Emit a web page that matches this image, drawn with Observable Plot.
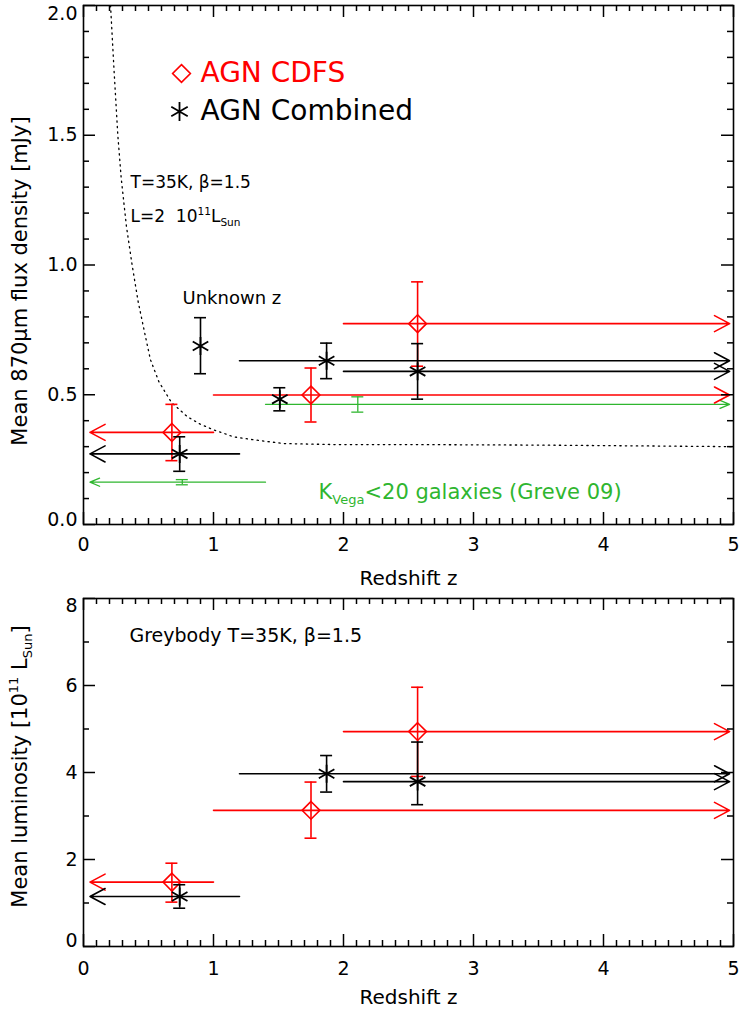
<!DOCTYPE html>
<html><head><meta charset="utf-8">
<script src="https://cdn.jsdelivr.net/npm/d3@7"></script>
<script src="https://cdn.jsdelivr.net/npm/@observablehq/plot@0.6"></script>
<style>body{margin:0;background:#fff;} svg{display:block}</style>
</head><body><div id="chart"></div>
<script>
// ---------------- data ----------------
const xTicks = [0, 1, 2, 3, 4, 5];
const fluxTicks = [0, 0.5, 1.0, 1.5, 2.0];
const lumTicks = [0, 2, 4, 6, 8];

// AGN CDFS (red diamonds)
const zCDFS = [0.68, 1.75, 2.57];
const fluxCDFS = [0.355, 0.499, 0.774];
const fluxCDFSLo = [0.246, 0.395, 0.61];
const fluxCDFSHi = [0.463, 0.603, 0.935];
const lumCDFS = [1.48, 3.13, 4.94];
const lumCDFSLo = [1.02, 2.49, 3.91];
const lumCDFSHi = [1.915, 3.78, 5.96];
const binStartCDFS = [1.0, 1.0, 2.0];
const binArrowCDFS = [0.05, 4.97, 4.97];

// AGN Combined (black asterisks)
const zComb = [0.74, 1.87, 2.57];
const fluxComb = [0.272, 0.631, 0.590];
const fluxCombLo = [0.205, 0.562, 0.483];
const fluxCombHi = [0.338, 0.699, 0.697];
const lumComb = [1.15, 3.97, 3.79];
const lumCombLo = [0.88, 3.55, 3.26];
const lumCombHi = [1.42, 4.39, 4.70];
const binStartComb = [1.2, 1.2, 2.0];
const binArrowComb = [0.05, 4.97, 4.97];

// AGN Combined points without a redshift-bin bar (z~1.5 and "Unknown z")
const zCombSingle = [1.51, 0.90];
const fluxCombSingle = [0.483, 0.688];
const fluxCombSingleLo = [0.438, 0.581];
const fluxCombSingleHi = [0.527, 0.797];

// K_Vega<20 galaxies (Greve 09)
const zGreve = [0.76, 2.11];
const fluxGreve = [0.163, 0.463];
const fluxGreveLo = [0.153, 0.433];
const fluxGreveHi = [0.173, 0.492];
const binStartGreve = [1.4, 1.4];
const binArrowGreve = [0.05, 4.97];

// Greybody track T=35K, beta=1.5, L=2e11 Lsun
const curveZ =    [0.208, 0.235, 0.264, 0.29, 0.33, 0.374, 0.42, 0.47, 0.515, 0.58, 0.677, 0.8, 0.9, 1.0, 1.154, 1.3, 1.54, 1.92, 2.5, 3.0, 3.5, 4.0, 4.5, 5.0];
const curveFlux = [2.0, 1.75, 1.5, 1.335, 1.15, 1.0, 0.86, 0.74, 0.635, 0.55, 0.47, 0.415, 0.386, 0.365, 0.338, 0.327, 0.312, 0.308, 0.308, 0.307, 0.306, 0.304, 0.302, 0.300];

const RED = "#ff0000", GREEN = "#2fb62f", BLACK = "#000000";
const FONT = "DejaVu Sans";
const W = 739, ML = 83, MR = 6;
const H1 = 590, MT1 = 5, MB1 = 66;
const H2 = 419, MT2 = 8, MB2 = 63;
const X_DOMAIN = [0, 5];

// ---------------- helpers ----------------
function rows(z, v, lo, hi, from, to) {
  return z.map((d, i) => ({z: d, v: v[i], lo: lo[i], hi: hi[i],
    from: from ? from[i] : null, to: to ? to[i] : null}));
}
function series(data, {color, symbol, r = 8, sw = 1.6, dotSW = 1.6, headLength = 16, headAngle = 56}) {
  const m = [];
  const barred = data.filter(d => d.from != null);
  m.push(Plot.arrow(barred, {x1: "from", y1: "v", x2: "to", y2: "v", stroke: color, strokeWidth: sw, headLength, headAngle}));
  m.push(Plot.ruleX(data, {x: "z", y1: "lo", y2: "hi", stroke: color, strokeWidth: sw}));
  m.push(Plot.ruleY(data, {y: "lo", x1: "z", x2: "z", insetLeft: -6, insetRight: -6, stroke: color, strokeWidth: sw}));
  m.push(Plot.ruleY(data, {y: "hi", x1: "z", x2: "z", insetLeft: -6, insetRight: -6, stroke: color, strokeWidth: sw}));
  if (symbol) m.push(Plot.dot(data, {x: "z", y: "v", symbol, r, stroke: color, strokeWidth: dotSW, fill: "none"}));
  return m;
}
// inward ticks on all four sides, drawn as rules; tick length given in px and
// converted to data units from the frame size
function ticksOn(vals, side, len, yDom, fw, fh) {
  const ky = (yDom[1] - yDom[0]) / fh, kx = (X_DOMAIN[1] - X_DOMAIN[0]) / fw;
  const o = {stroke: BLACK, strokeWidth: 1.5};
  if (side === "bottom") return Plot.ruleX(vals, {...o, x: d => d, y1: () => yDom[0], y2: () => yDom[0] + len * ky});
  if (side === "top") return Plot.ruleX(vals, {...o, x: d => d, y1: () => yDom[1] - len * ky, y2: () => yDom[1]});
  if (side === "left") return Plot.ruleY(vals, {...o, y: d => d, x1: () => X_DOMAIN[0], x2: () => X_DOMAIN[0] + len * kx});
  return Plot.ruleY(vals, {...o, y: d => d, x1: () => X_DOMAIN[1] - len * kx, x2: () => X_DOMAIN[1]});
}
function frameAxes({height, marginTop, marginBottom, yDom, yMajor, yMinor, fmt, endShiftTop, endShiftBottom, xPad}) {
  const fw = W - ML - MR, fh = height - marginTop - marginBottom;
  const xMinor = d3.range(1, 50).map(i => i / 10).filter(v => Math.abs(v - Math.round(v)) > 1e-6);
  const lab = {label: null, tickSize: 0, fontSize: 19};
  return [
    ticksOn(xTicks, "bottom", 12, yDom, fw, fh), ticksOn(xMinor, "bottom", 6, yDom, fw, fh),
    ticksOn(xTicks, "top", 12, yDom, fw, fh), ticksOn(xMinor, "top", 6, yDom, fw, fh),
    ticksOn(yMajor, "left", 12, yDom, fw, fh), ticksOn(yMinor, "left", 6, yDom, fw, fh),
    ticksOn(yMajor, "right", 12, yDom, fw, fh), ticksOn(yMinor, "right", 6, yDom, fw, fh),
    Plot.axisX(xTicks, {...lab, anchor: "bottom", tickPadding: xPad, tickFormat: d => String(d)}),
    Plot.axisY(yMajor.slice(1, -1), {...lab, anchor: "left", tickPadding: 6, tickFormat: fmt}),
    Plot.axisY(yMajor.slice(-1), {...lab, anchor: "left", tickPadding: 6, tickFormat: fmt, dy: endShiftTop}),
    Plot.axisY(yMajor.slice(0, 1), {...lab, anchor: "left", tickPadding: 6, tickFormat: fmt, dy: endShiftBottom}),
    Plot.frame({stroke: BLACK, strokeWidth: 1.6})
  ];
}
// turn ^{..} and _{..} into superscript / subscript tspans
function applyRich(svg) {
  const NS = "http://www.w3.org/2000/svg";
  svg.querySelectorAll("text").forEach(el => {
    const s = el.textContent;
    if (!/[\^_]\{/.test(s)) return;
    el.textContent = "";
    const segs = [];
    const re = /([\^_])\{([^}]*)\}/g;
    let last = 0, m;
    while ((m = re.exec(s))) {
      if (m.index > last) segs.push({t: s.slice(last, m.index), k: "n"});
      segs.push({t: m[2], k: m[1] === "^" ? "sup" : "sub"});
      last = re.lastIndex;
    }
    if (last < s.length) segs.push({t: s.slice(last), k: "n"});
    let cur = 0;
    for (const g of segs) {
      const ts = document.createElementNS(NS, "tspan");
      ts.textContent = g.t;
      const scale = g.k === "n" ? 1 : 0.62;
      const target = g.k === "sup" ? -0.42 : g.k === "sub" ? 0.22 : 0;
      if (scale !== 1) ts.setAttribute("font-size", (scale * 100) + "%");
      if (target !== cur) ts.setAttribute("dy", ((target - cur) / scale).toFixed(3) + "em");
      cur = target;
      el.appendChild(ts);
    }
  });
}

// ---------------- top panel ----------------
const curve = curveZ.map((z, i) => ({z, f: curveFlux[i]}));
const fluxMinor = d3.range(1, 20).map(i => i / 10).filter(v => Math.abs(v * 2 - Math.round(v * 2)) > 1e-6);
const fluxDom = [0, 2], lumDom = [0, 8];

const topPlot = Plot.plot({
  width: W, height: H1,
  marginLeft: ML, marginRight: MR, marginTop: MT1, marginBottom: MB1,
  style: {fontFamily: FONT, fontSize: "19px", background: "white", color: "black"},
  x: {domain: X_DOMAIN},
  y: {domain: fluxDom},
  marks: [
    Plot.line(curve, {x: "z", y: "f", stroke: BLACK, strokeWidth: 1.3, strokeDasharray: "1.3 4.2", clip: true}),
    ...series(rows(zGreve, fluxGreve, fluxGreveLo, fluxGreveHi, binStartGreve, binArrowGreve),
      {color: GREEN, symbol: null, sw: 1.3, headLength: 12, headAngle: 46}),
    ...series(rows(zCDFS, fluxCDFS, fluxCDFSLo, fluxCDFSHi, binStartCDFS, binArrowCDFS),
      {color: RED, symbol: "diamond2", r: 8}),
    ...series(rows(zComb, fluxComb, fluxCombLo, fluxCombHi, binStartComb, binArrowComb),
      {color: BLACK, symbol: "asterisk", r: 8.5, dotSW: 1.8}),
    ...series(rows(zCombSingle, fluxCombSingle, fluxCombSingleLo, fluxCombSingleHi),
      {color: BLACK, symbol: "asterisk", r: 8.5, dotSW: 1.8}),
    // legend
    Plot.dot([0], {frameAnchor: "top-left", dx: 98, dy: 68, symbol: "diamond2", r: 8, stroke: RED, strokeWidth: 1.6, fill: "none"}),
    Plot.dot([0], {frameAnchor: "top-left", dx: 96, dy: 106, symbol: "asterisk", r: 9, stroke: BLACK, strokeWidth: 1.8}),
    Plot.text(["AGN CDFS"], {frameAnchor: "top-left", dx: 117, dy: 68, textAnchor: "start", lineAnchor: "middle", fontSize: 28, fill: RED}),
    Plot.text(["AGN Combined"], {frameAnchor: "top-left", dx: 117, dy: 106, textAnchor: "start", lineAnchor: "middle", fontSize: 28, fill: BLACK}),
    // annotations
    Plot.text(["T=35K, β=1.5"], {frameAnchor: "top-left", dx: 47, dy: 177, textAnchor: "start", lineAnchor: "middle", fontSize: 17}),
    Plot.text(["L=2\u00A0\u00A010^{11}L_{Sun}"], {frameAnchor: "top-left", dx: 47, dy: 211, textAnchor: "start", lineAnchor: "middle", fontSize: 17}),
    Plot.text(["Unknown z"], {frameAnchor: "top-left", dx: 99, dy: 293, textAnchor: "start", lineAnchor: "middle", fontSize: 18}),
    Plot.text(["K_{Vega}<20 galaxies (Greve 09)"], {frameAnchor: "top-left", dx: 235, dy: 487, textAnchor: "start", lineAnchor: "middle", fontSize: 21, fill: GREEN}),
    // axis titles
    Plot.text(["Mean 870μm flux density [mJy]"], {frameAnchor: "left", dx: -63, dy: 16, rotate: -90, textAnchor: "middle", lineAnchor: "middle", fontSize: 21}),
    Plot.text(["Redshift z"], {frameAnchor: "bottom", dy: 54, textAnchor: "middle", lineAnchor: "middle", fontSize: 20}),
    ...frameAxes({height: H1, marginTop: MT1, marginBottom: MB1, yDom: fluxDom, yMajor: fluxTicks, yMinor: fluxMinor,
      fmt: d => d.toFixed(1), endShiftTop: 8, endShiftBottom: -5, xPad: 13})
  ]
});

// ---------------- bottom panel ----------------
const bottomPlot = Plot.plot({
  width: W, height: H2,
  marginLeft: ML, marginRight: MR, marginTop: MT2, marginBottom: MB2,
  style: {fontFamily: FONT, fontSize: "19px", background: "white", color: "black"},
  x: {domain: X_DOMAIN},
  y: {domain: lumDom},
  marks: [
    ...series(rows(zCDFS, lumCDFS, lumCDFSLo, lumCDFSHi, binStartCDFS, binArrowCDFS),
      {color: RED, symbol: "diamond2", r: 8}),
    ...series(rows(zComb, lumComb, lumCombLo, lumCombHi, binStartComb, binArrowComb),
      {color: BLACK, symbol: "asterisk", r: 8.5, dotSW: 1.8}),
    Plot.text(["Greybody T=35K, β=1.5"], {frameAnchor: "top-left", dx: 46, dy: 37, textAnchor: "start", lineAnchor: "middle", fontSize: 19}),
    Plot.text(["Mean luminosity [10^{11} L_{Sun}]"], {frameAnchor: "left", dx: -63, dy: -6, rotate: -90, textAnchor: "middle", lineAnchor: "middle", fontSize: 21}),
    Plot.text(["Redshift z"], {frameAnchor: "bottom", dy: 51, textAnchor: "middle", lineAnchor: "middle", fontSize: 20}),
    ...frameAxes({height: H2, marginTop: MT2, marginBottom: MB2, yDom: lumDom, yMajor: lumTicks, yMinor: [1, 3, 5, 7],
      fmt: d => String(d), endShiftTop: 7, endShiftBottom: -6, xPad: 15})
  ]
});

applyRich(topPlot);
applyRich(bottomPlot);
const host = document.getElementById("chart");
host.appendChild(topPlot);
host.appendChild(bottomPlot);
</script>
</body></html>
